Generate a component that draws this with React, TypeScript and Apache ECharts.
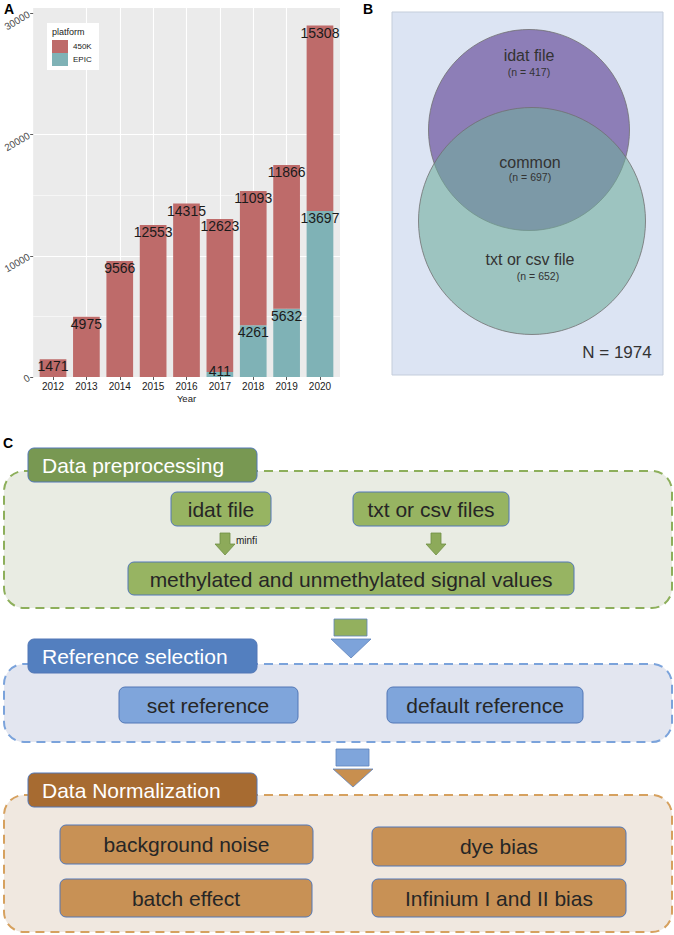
import React, { useEffect, useRef } from "react";
import * as echarts from "echarts";

// ---------- Panel A data ----------
const years = ["2012", "2013", "2014", "2015", "2016", "2017", "2018", "2019", "2020"];
const values450K = [1471, 4975, 9566, 12553, 14315, 12623, 11093, 11866, 15308];
const valuesEPIC: (number | null)[] = [null, null, null, null, null, 411, 4261, 5632, 13697];
const platforms = ["450K", "EPIC"];
const yMajorTicks = [0, 10000, 20000, 30000];
const yMinorTicks = [5000, 15000, 25000];

// ---------- Panel B data ----------
const vennSets = ["idat file", "common", "txt or csv file"];
const vennCounts = [417, 697, 652];
const vennTotal = 1974;

// ---------- Panel C data ----------
const stageTitles = ["Data preprocessing", "Reference selection", "Data Normalization"];
const preprocInputs = ["idat file", "txt or csv files"];
const preprocTool = "minfi";
const preprocOutput = "methylated and unmethylated signal values";
const referenceItems = ["set reference", "default reference"];
const normalizationItems = ["background noise", "dye bias", "batch effect", "Infinium I and II bias"];

const FONT = '"Liberation Sans", Arial, Helvetica, sans-serif';
const C450K = "#BE6B6A";
const CEPIC = "#7FB2B6";

function txt(x: number, y: number, text: string, size: number, fill: string, o: any = {}) {
  return {
    type: "text",
    x,
    y,
    z: o.z ?? 10,
    silent: true,
    style: {
      text,
      fill,
      fontSize: size,
      fontFamily: FONT,
      fontWeight: o.bold ? "bold" : "normal",
      align: o.align || "center",
      verticalAlign: o.va || "middle",
    },
  };
}
function rect(x: number, y: number, w: number, h: number, r: number, fill: string, stroke: string, z: number, lw = 1, dash?: number[]) {
  return {
    type: "rect",
    z,
    silent: true,
    shape: { x, y, width: w, height: h, r },
    style: { fill, stroke, lineWidth: lw, lineDash: dash },
  };
}
function downArrow(cx: number, y0: number, fill: string, stroke: string) {
  return {
    type: "polygon",
    z: 6,
    silent: true,
    shape: {
      points: [
        [cx - 5, y0],
        [cx + 5, y0],
        [cx + 5, y0 + 11],
        [cx + 10, y0 + 11],
        [cx, y0 + 22],
        [cx - 10, y0 + 11],
        [cx - 5, y0 + 11],
      ],
    },
    style: { fill, stroke, lineWidth: 0.8 },
  };
}
function triangle(x1: number, x2: number, y1: number, y2: number, fill: string, stroke: string) {
  return {
    type: "polygon",
    z: 6,
    silent: true,
    shape: { points: [[x1, y1], [x2, y1], [(x1 + x2) / 2, y2]] },
    style: { fill, stroke, lineWidth: 0.8 },
  };
}

export default function App() {
  const ref = useRef<HTMLDivElement>(null);
  useEffect(() => {
    if (!ref.current) return;
    const chart = echarts.init(ref.current, undefined, { renderer: "svg" });
    const totals = years.map((_, i) => values450K[i] + (valuesEPIC[i] ?? 0));
    const yMax = Math.max(...totals) * 1.05;
    const panelLeft = 33, panelW = 307, panelTop = 8, panelH = 369;
    const unit = panelW / (years.length + 0.2);

    const labelBase = {
      show: true,
      position: "insideTop",
      distance: 0,
      fontSize: 14,
      color: "#1a1a1a",
      fontFamily: FONT,
      textBorderWidth: 0,
      formatter: (p: any) => String(p.value),
    };

    const epicData = valuesEPIC.map((v) =>
      v == null ? "-" : v < 1000 ? { value: v, label: { position: "top", distance: -6 } } : v
    );

    const elements: any[] = [];
    // panel letters
    elements.push(txt(4, 2, "A", 14, "#000", { bold: true, align: "left", va: "top" }));
    elements.push(txt(363, 2, "B", 14, "#000", { bold: true, align: "left", va: "top" }));
    elements.push(txt(3, 436, "C", 14, "#000", { bold: true, align: "left", va: "top" }));
    // legend box for panel A
    elements.push(rect(47, 23, 52, 47, 0, "#ffffff", "none", 3, 0));
    elements.push(txt(52, 32, "platform", 9, "#1a1a1a", { align: "left", z: 5 }));

    // ---------- Panel B (Venn) ----------
    elements.push(rect(392, 12, 271, 363, 0, "#DCE4F3", "#C4CDDB", 1, 1));
    elements.push({
      type: "circle", z: 2, silent: true,
      shape: { cx: 529, cy: 130, r: 100.5 },
      style: { fill: "#8D7EB7", stroke: "#707070", lineWidth: 0.8 },
    });
    elements.push({
      type: "circle", z: 3, silent: true,
      shape: { cx: 532, cy: 221, r: 113.5 },
      style: { fill: "rgba(112,172,155,0.58)", stroke: "#707070", lineWidth: 0.8 },
    });
    elements.push(txt(529, 55, vennSets[0], 16, "#333"));
    elements.push(txt(529, 72, `(n = ${vennCounts[0]})`, 10.5, "#333"));
    elements.push(txt(530, 162, vennSets[1], 16, "#333"));
    elements.push(txt(530, 177, `(n = ${vennCounts[1]})`, 10.5, "#333"));
    elements.push(txt(530, 259, vennSets[2], 16, "#333"));
    elements.push(txt(538, 276, `(n = ${vennCounts[2]})`, 10.5, "#333"));
    elements.push(txt(617, 352, `N = ${vennTotal}`, 17, "#333"));

    // ---------- Panel C (flowchart) ----------
    const boxStroke = "#5277B6";
    const textDark = "#262626";
    // stage 1
    elements.push(rect(4, 471, 668, 137, 20, "#E9ECE3", "#8DAF5B", 1, 2, [9, 6]));
    elements.push(rect(28, 448, 229, 34, 6, "#789852", boxStroke, 2, 1));
    elements.push(txt(42, 465, stageTitles[0], 21, "#ffffff", { align: "left" }));
    elements.push(rect(171, 492, 100, 34, 6, "#97B462", boxStroke, 2, 1));
    elements.push(txt(221, 509, preprocInputs[0], 21, textDark));
    elements.push(rect(353, 492, 156, 34, 6, "#97B462", boxStroke, 2, 1));
    elements.push(txt(431, 509, preprocInputs[1], 21, textDark));
    elements.push(downArrow(225, 533, "#8DAA5A", "#6F8F45"));
    elements.push(txt(236, 540, preprocTool, 10, "#222", { align: "left" }));
    elements.push(downArrow(436, 533, "#8DAA5A", "#6F8F45"));
    elements.push(rect(128, 562, 446, 33, 6, "#97B462", boxStroke, 2, 1));
    elements.push(txt(351, 579, preprocOutput, 21, textDark));
    // connector 1
    elements.push(rect(334, 619, 33, 17, 0, "#93B05E", "#5E83BD", 6, 0.8));
    elements.push(triangle(331, 371, 639, 658, "#7DA3DA", "#5E83BD"));
    // stage 2
    elements.push(rect(4, 664, 668, 78, 20, "#E3E6F0", "#7BA3DB", 1, 2, [9, 6]));
    elements.push(rect(28, 639, 229, 34, 6, "#537FBF", boxStroke, 2, 1));
    elements.push(txt(42, 656, stageTitles[1], 21, "#ffffff", { align: "left" }));
    elements.push(rect(119, 687, 179, 36, 6, "#7FA5DB", boxStroke, 2, 1));
    elements.push(txt(208, 705, referenceItems[0], 21, textDark));
    elements.push(rect(387, 687, 196, 36, 6, "#7FA5DB", boxStroke, 2, 1));
    elements.push(txt(485, 705, referenceItems[1], 21, textDark));
    // connector 2
    elements.push(rect(336, 749, 33, 17, 0, "#7FA5DB", "#5E83BD", 6, 0.8));
    elements.push(triangle(333, 373, 769, 787, "#C88F4F", "#5E83BD"));
    // stage 3
    elements.push(rect(4, 795, 668, 137, 20, "#F0E8E0", "#D6A15F", 1, 2, [9, 6]));
    elements.push(rect(28, 773, 229, 34, 6, "#A76B31", boxStroke, 2, 1));
    elements.push(txt(42, 790, stageTitles[2], 21, "#ffffff", { align: "left" }));
    const nBoxes = [
      [60, 825, 253, 39],
      [372, 827, 254, 39],
      [60, 879, 252, 38],
      [372, 879, 254, 38],
    ];
    nBoxes.forEach((b, i) => {
      elements.push(rect(b[0], b[1], b[2], b[3], 6, "#C89155", boxStroke, 2, 1));
      elements.push(txt(b[0] + b[2] / 2, b[1] + b[3] / 2, normalizationItems[i], 21, textDark));
    });

    const option: any = {
      animation: false,
      backgroundColor: "#ffffff",
      textStyle: { fontFamily: FONT },
      grid: [
        {
          left: panelLeft, top: panelTop, width: panelW, height: panelH,
          show: true, backgroundColor: "#EBEBEB", borderWidth: 0, z: 0,
        },
        {
          left: panelLeft + 0.1 * unit, top: panelTop, width: years.length * unit, height: panelH,
        },
      ],
      xAxis: [
        {
          gridIndex: 0, type: "value", min: -0.6, max: years.length - 0.4, interval: 1,
          axisLabel: { show: false }, axisLine: { show: false, onZero: false },
          axisTick: { show: false, customValues: years.map((_, i) => i) },
          splitLine: { show: true, showMinLine: false, showMaxLine: false, lineStyle: { color: "#ffffff", width: 1.1 } },
        },
        {
          gridIndex: 1, type: "category", data: years, boundaryGap: true,
          axisLine: { show: false, onZero: false },
          axisTick: { show: true, alignWithLabel: true, length: 3, lineStyle: { color: "#333", width: 0.8 } },
          axisLabel: { fontSize: 10, color: "#1a1a1a", margin: 4, fontFamily: FONT },
          splitLine: { show: false },
          name: "Year", nameLocation: "middle", nameGap: 16,
          nameTextStyle: { fontSize: 9.5, color: "#1a1a1a", fontFamily: FONT },
        },
      ],
      yAxis: [
        {
          gridIndex: 0, type: "value", min: 0, max: yMax, interval: 10000,
          axisLine: { show: false, onZero: false },
          axisTick: { show: true, length: 3, customValues: yMajorTicks, lineStyle: { color: "#333", width: 0.8 } },
          axisLabel: {
            customValues: yMajorTicks, rotate: 30, fontSize: 10, color: "#4D4D4D", margin: 4,
            fontFamily: FONT, formatter: (v: number) => String(v),
          },
          splitLine: { show: true, showMaxLine: false, lineStyle: { color: "#ffffff", width: 1.1 } },
        },
        {
          gridIndex: 0, type: "value", min: 0, max: yMax, interval: 5000,
          axisLine: { show: false, onZero: false },
          axisTick: { show: false, customValues: yMinorTicks },
          axisLabel: { show: false },
          splitLine: { show: true, showMaxLine: false, lineStyle: { color: "#ffffff", width: 0.55 } },
        },
        {
          gridIndex: 1, type: "value", min: 0, max: yMax, show: false,
          axisLine: { onZero: false },
          splitLine: { show: false },
        },
      ],
      legend: {
        data: platforms,
        orient: "vertical",
        left: 52,
        top: 40,
        itemWidth: 16,
        itemHeight: 13,
        itemGap: 0,
        padding: 0,
        icon: "rect",
        textStyle: { fontSize: 8, color: "#1a1a1a", fontFamily: FONT },
      },
      series: [
        {
          name: platforms[1], type: "bar", stack: "total", xAxisIndex: 1, yAxisIndex: 2,
          barWidth: "80%", itemStyle: { color: CEPIC }, data: epicData, label: labelBase,
        },
        {
          name: platforms[0], type: "bar", stack: "total", xAxisIndex: 1, yAxisIndex: 2,
          barWidth: "80%", itemStyle: { color: C450K }, data: values450K, label: labelBase,
        },
      ],
      graphic: { elements },
    };
    chart.setOption(option);
    return () => chart.dispose();
  }, []);
  return (
    <div
      ref={ref}
      style={{ position: "absolute", left: 0, top: 0, width: 674, height: 935 }}
    />
  );
}
